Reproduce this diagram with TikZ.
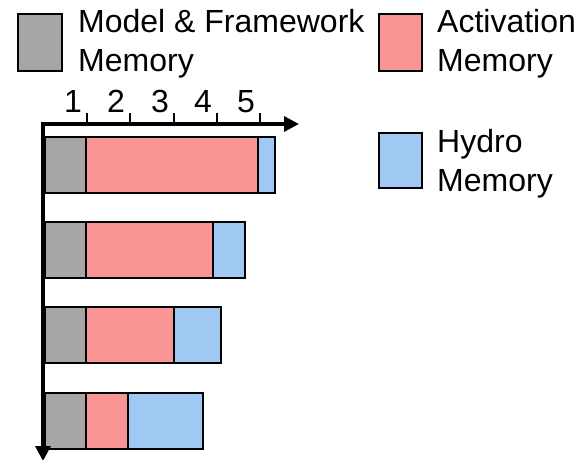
\documentclass[tikz,border=0pt]{standalone}
\usepackage{fontspec}
\setmainfont{Liberation Sans}
\usetikzlibrary{arrows.meta}
\definecolor{modelgray}{HTML}{A6A6A6}
\definecolor{actred}{HTML}{FA9595}
\definecolor{hydroblue}{HTML}{9FC8F2}
\begin{document}
\begin{tikzpicture}[x=1pt,y=-1pt,
  lbl/.style={inner sep=0pt,anchor=base west,font=\fontsize{32}{39}\selectfont},
  ticklbl/.style={inner sep=0pt,anchor=base,font=\fontsize{32}{39}\selectfont},
  box/.style={draw=black,line width=2.5pt},
  axis/.style={line width=3.5pt,-{Triangle[length=15pt,width=15pt]}},
  tick/.style={line width=2pt}]
\useasboundingbox (0,0) rectangle (584,460);

% legend
\path[box,fill=modelgray] (18,14) rectangle (62,71);
\node[lbl] (lgA1) at (78,33) {Model \& Framework};
\node[lbl] (lgA2) at (78,72) {Memory};
\path[box,fill=actred] (379,14) rectangle (422,71);
\node[lbl] (lgB1) at (437,33) {Activation};
\node[lbl] (lgB2) at (437,72) {Memory};
\path[box,fill=hydroblue] (379,133) rectangle (422,188);
\node[lbl] (lgC1) at (437,152) {Hydro};
\node[lbl] (lgC2) at (437,191) {Memory};

% bars: model | activation | hydro
\foreach \yt/\ra/\hb in {137/258/275, 222/213/245, 307/174/221, 393/128/203}{
  \path[box,fill=modelgray] (45,\yt) rectangle (86,\yt+56);
  \path[box,fill=actred] (86,\yt) rectangle (\ra,\yt+56);
  \path[box,fill=hydroblue] (\ra,\yt) rectangle (\hb,\yt+56);
}

% axes
\coordinate (origin) at (43,124);
\coordinate (xend) at (299,124);
\coordinate (ystart) at (43,122.3);
\coordinate (yend) at (43,461);
\draw[axis] (ystart) -- (yend);
\draw[axis] (origin) -- (xend);

% ticks and labels
\foreach \i/\x in {1/87,2/130,3/174,4/217,5/260}{
  \draw[tick] (\x,113) -- (\x,124);
  \node[ticklbl] (t\i) at (\x-14,112) {\i};
}
\end{tikzpicture}
\end{document}
